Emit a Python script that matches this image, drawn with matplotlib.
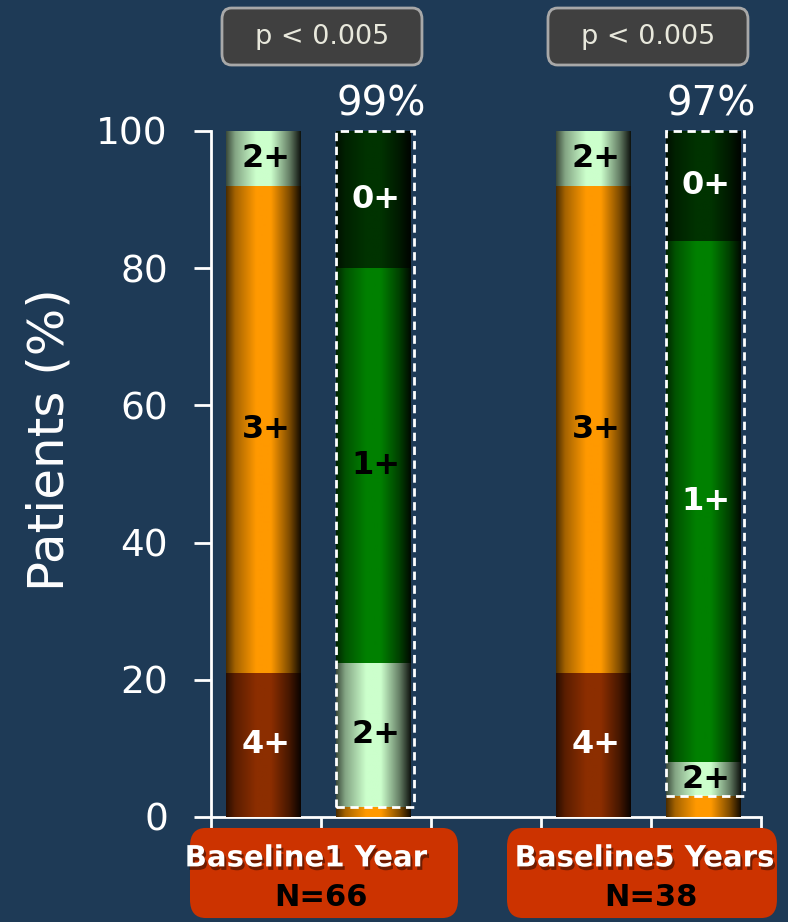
import numpy as np
import matplotlib
matplotlib.use("Agg")
import matplotlib.pyplot as plt
import matplotlib.colors as mcolors
import matplotlib.patheffects as pe
import matplotlib.transforms as mtrans
from matplotlib.patches import FancyBboxPatch, Rectangle

# categories along the x axis ('' = empty slot between the two studies)
categories = ['Baseline', '1 Year', '', 'Baseline', '5 Years']

# stacked segments per bar, bottom -> top (grade, % of patients)
bar_grades = {
    'Baseline 1': ['4+', '3+', '2+'],
    '1 Year': ['3+', '2+', '1+', '0+'],
    'Baseline 2': ['4+', '3+', '2+'],
    '5 Years': ['3+', '2+', '1+', '0+'],
}
bar_values = {
    'Baseline 1': [21, 71, 8],
    '1 Year': [1.5, 21, 57.5, 20],
    'Baseline 2': [21, 71, 8],
    '5 Years': [3, 5, 76, 16],
}
improved_pct = ['99%', '97%']
p_values = ['p < 0.005', 'p < 0.005']
n_labels = ['N=66', 'N=38']
yticks = [0, 20, 40, 60, 80, 100]

bg = '#1E3A56'
grade_colors = {'4+': '#8C2E00', '3+': '#FF9900', '2+': '#CCFFCC',
                '1+': '#008000', '0+': '#003300'}
label_colors = {'4+': 'white', '3+': 'black', '2+': 'black', '1+': 'black', '0+': 'white'}

fig = plt.figure(figsize=(7.88, 9.22), dpi=100, facecolor=bg)
ax = fig.add_axes([0.2678, 0.1139, 0.6979, 0.7441], facecolor=bg)


def gradient(color, n=80):
    rgb = np.array(mcolors.to_rgb(color))
    t = np.linspace(0, 1, n)
    s = np.interp(t, [0, 0.12, 0.4, 0.6, 0.85, 1], [0.3, 0.65, 1.0, 1.0, 0.5, 0.08])
    return (rgb[None, :] * s[:, None])[None, :, :]


positions = [i for i, c in enumerate(categories) if c]
width = 0.68
for pos, key in zip(positions, bar_values):
    bottom = 0
    for grade, val in zip(bar_grades[key], bar_values[key]):
        bar = ax.bar(pos - 0.02, val, width, bottom=bottom, color=grade_colors[grade],
                     linewidth=0, zorder=2)[0]
        im = ax.imshow(gradient(grade_colors[grade]), aspect='auto',
                       extent=(pos - 0.02 - width / 2, pos - 0.02 + width / 2,
                               bottom, bottom + val),
                       interpolation='bilinear', zorder=3)
        im.set_clip_path(bar)
        lc = label_colors[grade]
        if key == '5 Years' and grade == '1+':
            lc = 'white'
        if val >= 4:
            ax.text(pos, bottom + val / 2, grade, ha='center', va='center',
                    fontsize=23, fontweight='bold', color=lc, zorder=5)
        bottom += val

# dashed boxes around the improved grades of the follow-up bars
post = [(p, k) for p, k in zip(positions, bar_values) if bar_grades[k][0] == '3+']
for (pos, key), pct in zip(post, improved_pct):
    b0 = bar_values[key][0]
    w = width + 0.03
    ax.add_patch(Rectangle((pos - 0.01 - w / 2, b0), w, 100 - b0, fill=False, ec='white',
                           lw=2, ls=(0, (3, 2)), zorder=6, clip_on=False))
    ax.text(pos + 0.05, 101, pct, ha='center', va='bottom', fontsize=29,
            color='white', zorder=6)

ax.set_xlim(-0.5, len(categories) - 0.5)
ax.set_ylim(0, 100)
ax.set_yticks(yticks)
ax.set_xticks(np.arange(-0.5, len(categories), 1.0))
ax.set_xticklabels([])
ax.tick_params(axis='y', colors='white', labelsize=27, length=12, width=2, pad=19)
ax.tick_params(axis='x', colors='white', length=10, width=2)
for s in ['top', 'right']:
    ax.spines[s].set_visible(False)
for s in ['left', 'bottom']:
    ax.spines[s].set_color('white')
    ax.spines[s].set_linewidth(2)
ax.set_ylabel('Patients (%)', color='white', fontsize=36)
ax.yaxis.set_label_coords(-0.25, 0.55)

# p-value boxes
for (x0, x1), txt in zip([(0.2817, 0.5355), (0.6954, 0.9492)], p_values):
    fig.patches.append(FancyBboxPatch((x0, 0.9295), x1 - x0, 0.0618,
                                      boxstyle='round,pad=0,rounding_size=0.012',
                                      transform=fig.transFigure, fc='#404040',
                                      ec='#A8A8A8', lw=2, zorder=1))
    fig.text((x0 + x1) / 2, 0.9604, txt, ha='center', va='center', fontsize=19.5,
             color='#E8E8DC', zorder=3)

# group label boxes under the axis
shadow = [pe.withSimplePatchShadow(offset=(1.5, -2.5), shadow_rgbFace='black', alpha=0.45)]
xfig = mtrans.blended_transform_factory(ax.transData, fig.transFigure)
groups = [positions[:2], positions[2:]]
for (x0, x1), grp, nl in zip([(0.2411, 0.5812), (0.6434, 0.9860)], groups, n_labels):
    fig.patches.append(FancyBboxPatch((x0, 0.0043), x1 - x0, 0.0977,
                                      boxstyle='round,pad=0,rounding_size=0.02',
                                      transform=fig.transFigure, fc='#CC3300',
                                      ec='none', zorder=1))
    split = (grp[0] + grp[1]) / 2 + 0.03
    fig.text(split, 0.069, categories[grp[0]], transform=xfig,
             ha='right', va='center', fontsize=21, fontweight='bold',
             color='white', path_effects=shadow, zorder=5)
    fig.text(split, 0.069, categories[grp[1]], transform=xfig,
             ha='left', va='center', fontsize=21, fontweight='bold',
             color='white', path_effects=shadow, zorder=5)
    fig.text(np.mean(grp), 0.027, nl, transform=xfig,
             ha='center', va='center', fontsize=22, fontweight='bold',
             color='black', zorder=5)

fig.savefig('out.png', dpi=100, facecolor=bg)
